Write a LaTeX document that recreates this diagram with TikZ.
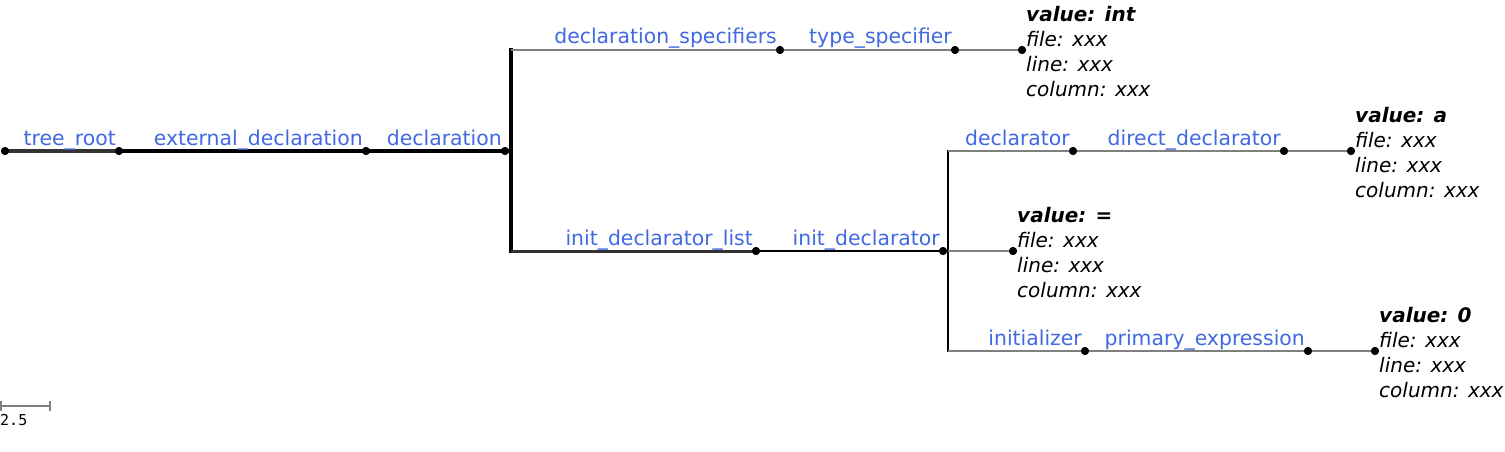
\documentclass[tikz,border=0pt]{standalone}
\usepackage{fontspec}
\setmainfont{DejaVu Sans}
\newfontfamily\monofnt{DejaVu Sans Mono}
\definecolor{lblblue}{HTML}{4169E1}
\definecolor{lngray}{HTML}{808080}
\definecolor{dkgray}{HTML}{333333}
\tikzset{
  dotn/.style={circle, fill=black, inner sep=0pt, minimum size=8pt},
  lbl/.style={text=lblblue, font=\fontsize{20.4}{24}\selectfont, inner sep=0pt, anchor=base east},
  leafinfo/.style={font=\fontsize{20}{25}\selectfont\itshape, align=left, inner sep=0pt, anchor=north west},
  thickbr/.style={line width=4pt, black},
  midbr/.style={line width=2.5pt, black},
  thinbr/.style={line width=2pt, lngray},
}
\begin{document}
\begin{tikzpicture}[x=1pt, y=-1pt]
\useasboundingbox (0,0) rectangle (1505,452);
% dot nodes
\node[dotn] (root) at (5,151) {};
\node[dotn] (tr) at (119,151) {};
\node[dotn] (ed) at (366,151) {};
\node[dotn] (dc) at (505,151) {};
\coordinate (vtop) at (511,50);
\coordinate (vbot) at (511,251);
\node[dotn] (ds) at (780,50) {};
\node[dotn] (ts) at (955,50) {};
\node[dotn] (lint) at (1022,50) {};
\node[dotn] (idl) at (756,251) {};
\node[dotn] (id) at (943,251) {};
\coordinate (v2top) at (948,151);
\coordinate (v2bot) at (948,351);
\node[dotn] (dl) at (1073,151) {};
\node[dotn] (dd) at (1284,151) {};
\node[dotn] (la) at (1351,151) {};
\node[dotn] (leq) at (1013,251) {};
\node[dotn] (ini) at (1085,351) {};
\node[dotn] (pe) at (1308,351) {};
\node[dotn] (l0) at (1375,351) {};
% branches
\draw[line width=4pt, dkgray] (root.center) -- (tr.center);
\draw[thickbr] (tr.center) -- (ed.center);
\draw[thickbr] (ed.center) -- (dc.center) -- (vbot |- dc.center);
\draw[thickbr, line cap=rect] (vtop) -- (vbot);
\draw[thinbr] (vtop) -- (ds.center);
\draw[thinbr] (ds.center) -- (ts.center);
\draw[thinbr] (ts.center) -- (lint.center);
\draw[line width=3pt, dkgray] (vbot) -- (idl.center);
\draw[midbr] (idl.center) -- (id.center) -- (v2top |- id.center);
\draw[midbr, line cap=rect] (v2top) -- (v2bot);
\draw[thinbr] (v2top) -- (dl.center);
\draw[thinbr] (dl.center) -- (dd.center);
\draw[thinbr] (dd.center) -- (la.center);
\draw[thinbr] (v2top |- leq.center) -- (leq.center);
\draw[thinbr] (v2bot) -- (ini.center);
\draw[thinbr] (ini.center) -- (pe.center);
\draw[thinbr] (pe.center) -- (l0.center);
% redraw dots on top
\foreach \n in {root,tr,ed,dc,ds,ts,lint,idl,id,dl,dd,la,leq,ini,pe,l0}
  \fill[black] (\n) circle (4pt);
% labels
\node[lbl] (tlbl) at ([xshift=-3pt, yshift=6pt]tr.center) {tree\_root};
\node[lbl] (edlbl) at ([xshift=-3pt, yshift=6pt]ed.center) {external\_declaration};
\node[lbl] (dclbl) at ([xshift=-3pt, yshift=6pt]dc.center) {declaration};
\node[lbl] (dslbl) at ([xshift=-3pt, yshift=6pt]ds.center) {declaration\_specifiers};
\node[lbl] (tslbl) at ([xshift=-3pt, yshift=6pt]ts.center) {type\_specifier};
\node[lbl] (idllbl) at ([xshift=-3pt, yshift=6pt]idl.center) {init\_declarator\_list};
\node[lbl] (idlbl) at ([xshift=-3pt, yshift=6pt]id.center) {init\_declarator};
\node[lbl] (dllbl) at ([xshift=-3pt, yshift=6pt]dl.center) {declarator};
\node[lbl] (ddlbl) at ([xshift=-3pt, yshift=6pt]dd.center) {direct\_declarator};
\node[lbl] (inilbl) at ([xshift=-3pt, yshift=6pt]ini.center) {initializer};
\node[lbl] (pelbl) at ([xshift=-3pt, yshift=6pt]pe.center) {primary\_expression};
% leaf info
\node[leafinfo] (iint) at ([xshift=4pt, yshift=44pt]lint.center) {\textbf{value: int}\\file: xxx\\line: xxx\\column: xxx};
\node[leafinfo] (ia) at ([xshift=4pt, yshift=44pt]la.center) {\textbf{value: a}\\file: xxx\\line: xxx\\column: xxx};
\node[leafinfo] (ieq) at ([xshift=4pt, yshift=44pt]leq.center) {\textbf{value: =}\\file: xxx\\line: xxx\\column: xxx};
\node[leafinfo] (i0) at ([xshift=4pt, yshift=44pt]l0.center) {\textbf{value: 0}\\file: xxx\\line: xxx\\column: xxx};
% scale bar
\coordinate (sbl) at (1,406);
\coordinate (sbr) at (50,406);
\draw[lngray, line width=1.5pt] (sbl) -- (sbr);
\draw[lngray, line width=1.5pt] ([yshift=5pt]sbl) -- ([yshift=-5pt]sbl);
\draw[lngray, line width=1.5pt] ([yshift=5pt]sbr) -- ([yshift=-5pt]sbr);
\node[inner sep=0pt, anchor=base west, font=\monofnt\fontsize{15}{17}\selectfont] (sblbl) at ([xshift=-1pt, yshift=-19pt]sbl) {2.5};
\end{tikzpicture}
\end{document}
